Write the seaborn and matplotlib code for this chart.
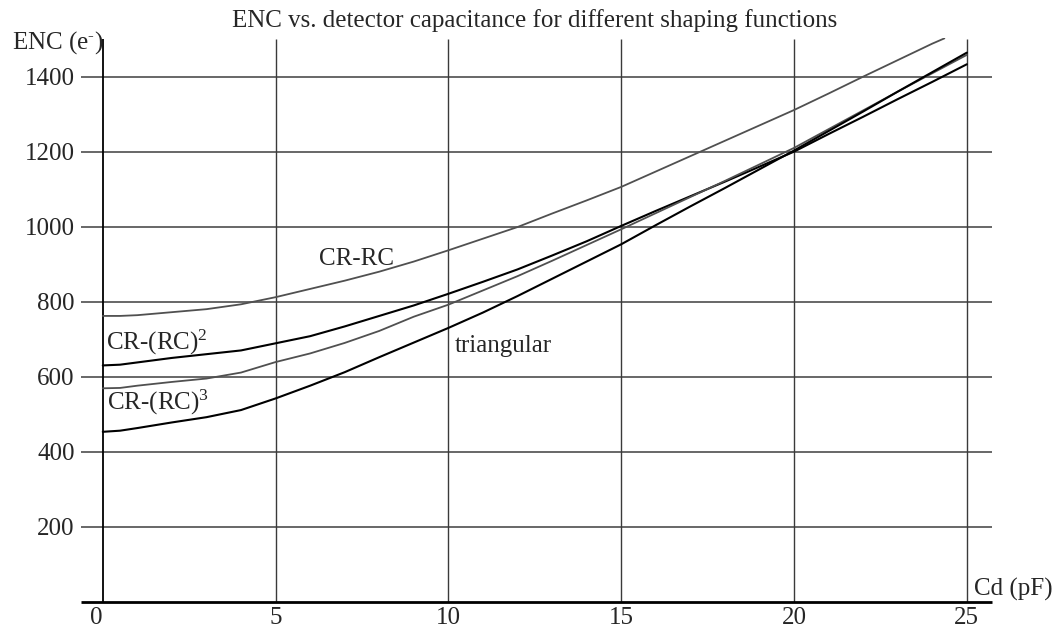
import matplotlib
matplotlib.use("Agg")
import pandas as pd
import matplotlib.pyplot as plt
import seaborn as sns

# detector capacitance (pF) and ENC (electrons)
cap_pf = [0, 0.5, 1, 2, 3, 4, 5, 6, 7, 8, 9, 10, 11, 12, 13, 14, 15, 16, 17,
          18, 19, 20, 21, 22, 23, 24, 25]
enc_cr_rc2 = [630, 632, 638, 650, 660, 670, 689, 708, 734, 762, 790, 821, 853,
              886, 923, 961, 1002, 1042, 1081, 1120, 1160, 1200, 1247, 1293,
              1340, 1386, 1433]
enc_cr_rc3 = [569, 570, 576, 586, 595, 611, 639, 662, 690, 722, 760, 792, 830,
              868, 909, 951, 993, 1036, 1079, 1122, 1166, 1210, 1260, 1310,
              1360, 1409, 1458]
enc_triangular = [453, 456, 463, 478, 492, 511, 542, 576, 612, 652, 691, 730,
                  771, 815, 861, 907, 953, 1004, 1054, 1103, 1153, 1203, 1255,
                  1307, 1360, 1412, 1464]

# CR-RC leaves the plot at the top before 25 pF
cap_cr_rc = [0, 0.5, 1, 2, 3, 4, 5, 6, 7, 8, 9, 10, 11, 12, 13, 14, 15, 16,
             17, 18, 19, 20, 21, 22, 23, 24, 24.35]
enc_cr_rc = [762, 762, 764, 772, 780, 793, 812, 834, 856, 880, 907, 937, 968,
             999, 1035, 1070, 1106, 1147, 1188, 1229, 1270, 1311, 1355, 1400,
             1444, 1488, 1502]

x_ticks = [0, 5, 10, 15, 20, 25]
y_ticks = [200, 400, 600, 800, 1000, 1200, 1400]

sns.set_style("white")
plt.rcParams["font.family"] = ["Liberation Serif", "DejaVu Serif"]
plt.rcParams["mathtext.fontset"] = "custom"
plt.rcParams["mathtext.rm"] = "Liberation Serif"
plt.rcParams["mathtext.it"] = "Liberation Serif:italic"
plt.rcParams["font.size"] = 18

W, H = 1057, 633
fig = plt.figure(figsize=(W / 100, H / 100), dpi=100)
ax = fig.add_axes([81 / W, (H - 601.7) / H, 910.7 / W, 563.3 / H])

x_lo, x_hi = -0.63, 25.72
ax.set_xlim(x_lo, x_hi)
ax.set_ylim(0, 1502)
for s in ax.spines.values():
    s.set_visible(False)

# grid and axis lines
ax.hlines(y_ticks, x_lo, x_hi, color="#5c5c5c", lw=1.3, zorder=1)
ax.vlines(x_ticks[1:], 0, 1500, color="#3a3a3a", lw=1.0, zorder=1)
ax.vlines(0, 0, 1500, color="black", lw=1.3, zorder=1)
ax.hlines(0, x_lo, x_hi, color="black", lw=2.0, zorder=3, clip_on=False)

curves = [
    (cap_cr_rc, enc_cr_rc, "#505050", 1.3),
    (cap_pf, enc_cr_rc2, "black", 1.5),
    (cap_pf, enc_cr_rc3, "#505050", 1.3),
    (cap_pf, enc_triangular, "black", 1.5),
]
for xs, ys, col, lw in curves:
    df = pd.DataFrame({"cap": xs, "enc": ys})
    sns.lineplot(data=df, x="cap", y="enc", color=col, lw=lw, ax=ax,
                 estimator=None, sort=False, zorder=2)

ax.set_xlabel("")
ax.set_ylabel("")
ax.set_xticks(x_ticks)
ax.set_yticks(y_ticks)
ax.tick_params(axis="both", length=0)
ax.tick_params(axis="x", pad=4)
ax.tick_params(axis="y", pad=4.5)
ax.get_xticklabels()[0].set_horizontalalignment("right")

# curve labels
ax.text(6.27, 898, "CR-RC", ha="left", va="baseline")
ax.text(0.08, 671, "CR-(RC)$^2$", ha="left", va="baseline")
ax.text(0.13, 511, "CR-(RC)$^3$", ha="left", va="baseline")
ax.text(10.17, 667, "triangular", ha="left", va="baseline")

fig.text(534.5 / W, 1 - 26.7 / H,
         "ENC vs. detector capacitance for different shaping functions",
         ha="center", va="baseline")
fig.text(11.7 / W, 1 - 49 / H, r"ENC (e$^{\text{-}}$)", ha="left",
         va="baseline")
fig.text(974 / W, 1 - 596 / H, "Cd (pF)", ha="left", va="baseline")

fig.savefig("out.png", dpi=100)
